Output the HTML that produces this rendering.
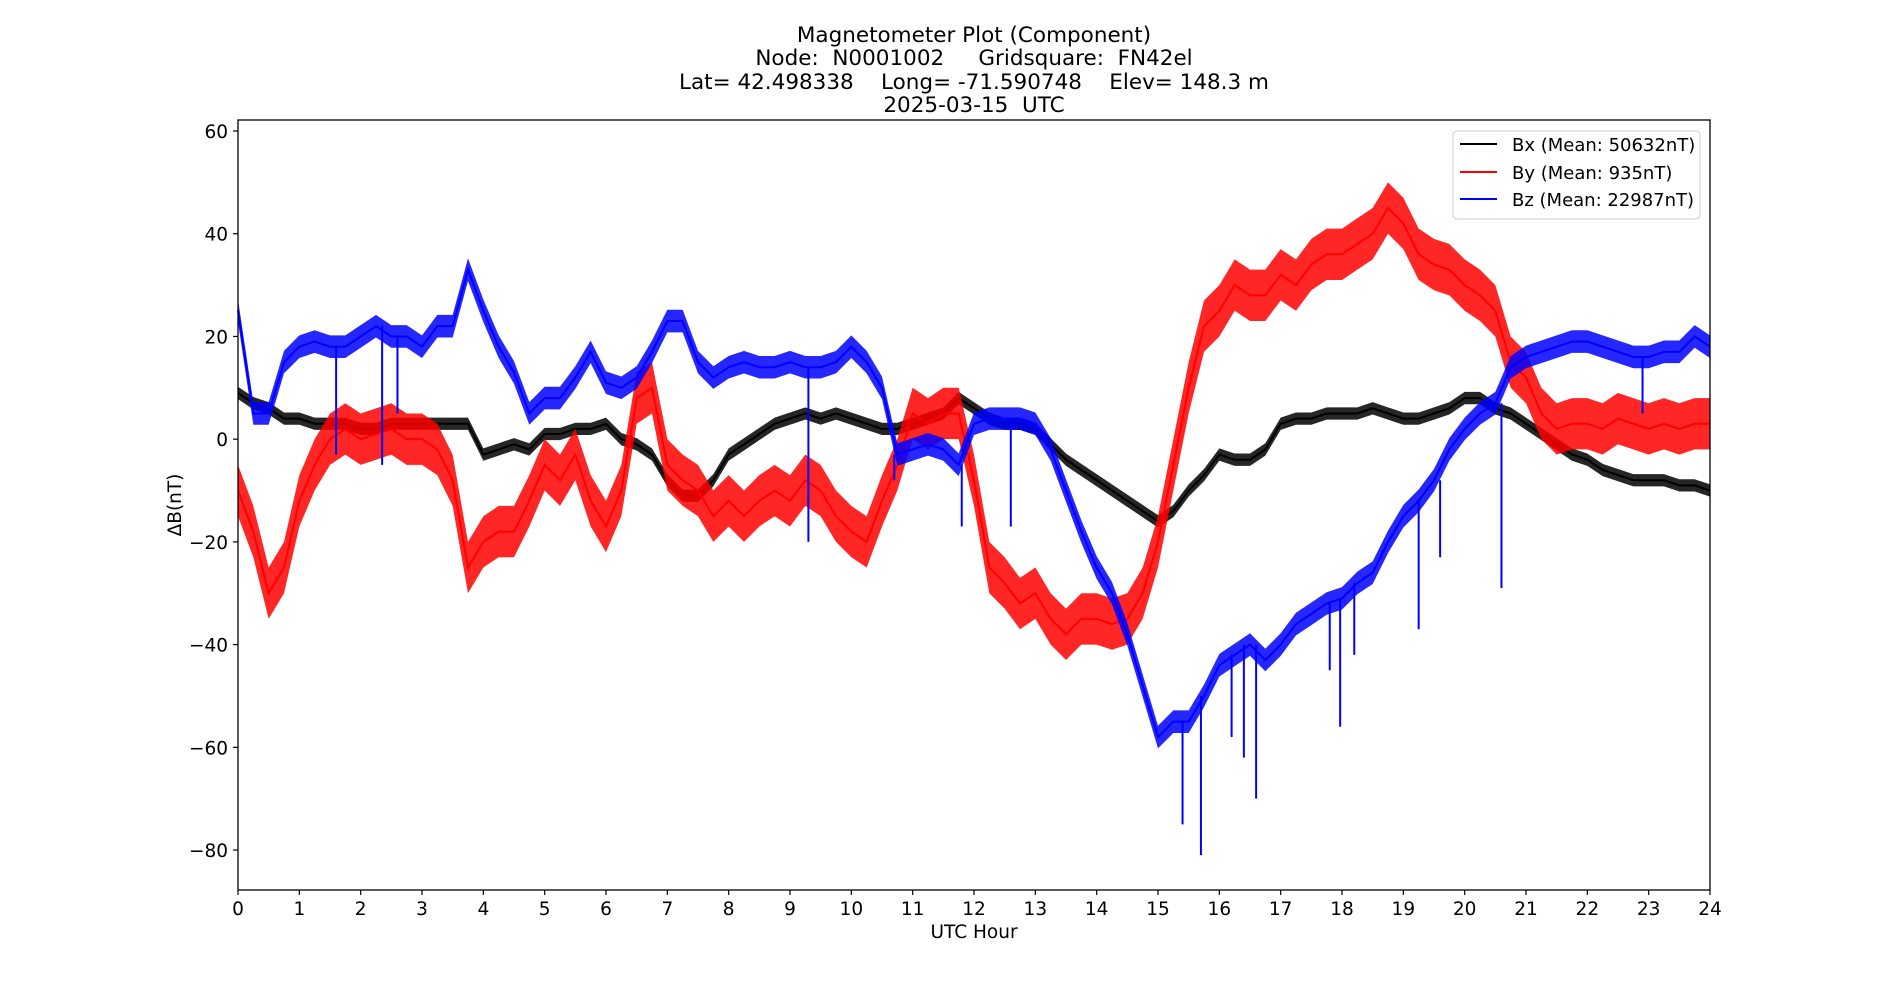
<!DOCTYPE html>
<html><head><meta charset="utf-8"><style>
html,body{margin:0;padding:0;background:#fff;}
svg{display:block;font-family:"DejaVu Sans","Liberation Sans",sans-serif;}
text{white-space:pre;}
</style></head><body>
<svg id="chart" width="1900" height="1000" viewBox="0 0 1900 1000">
<g font-size="21.5" text-anchor="middle" fill="#000" xml:space="preserve">
<text x="974" y="42">Magnetometer Plot (Component)</text>
<text x="974" y="65">Node:  N0001002     Gridsquare:  FN42el</text>
<text x="974" y="89">Lat= 42.498338    Long= -71.590748    Elev= 148.3 m</text>
<text x="974" y="112">2025-03-15  UTC</text>
</g>
<g id="plot"></g>
<rect x="238" y="120" width="1472" height="770" fill="none" stroke="#000" stroke-width="1.3"/>
<g id="xticks"></g>
<g id="yticks"></g>
<text x="974" y="938" font-size="18.5" text-anchor="middle">UTC Hour</text>
<text x="0" y="0" font-size="18.5" text-anchor="middle" transform="translate(181,505) rotate(-90)">ΔB(nT)</text>
<g>
<rect x="1453" y="131" width="247" height="88" rx="4" fill="#fff" fill-opacity="0.8" stroke="#ccc" stroke-width="1"/>
<g><line x1="1460" y1="144" x2="1497" y2="144" stroke="#000" stroke-width="2"/><text x="1512" y="151" font-size="18">Bx (Mean: 50632nT)</text></g>
<g><line x1="1460" y1="172" x2="1497" y2="172" stroke="#f00" stroke-width="2"/><text x="1512" y="179" font-size="18">By (Mean: 935nT)</text></g>
<g><line x1="1460" y1="199" x2="1497" y2="199" stroke="#00f" stroke-width="2"/><text x="1512" y="206" font-size="18">Bz (Mean: 22987nT)</text></g>
</g>
</svg>
<script>
const hours = [];
for (let i = 0; i <= 96; i++) hours.push(i * 0.25);
const bxValues = [9,7,6,4,4,3,3,3,2,2,3,3,3,3,3,3,-3,-2,-1,-2,1,1,2,2,3,0,-1,-3,-8,-11,-11,-8,-3,-1,1,3,4,5,4,5,4,3,2,2,3,4,5,8,6,4,3,3,2,-1,-4,-6,-8,-10,-12,-14,-16,-14,-10,-7,-3,-4,-4,-2,3,4,4,5,5,5,6,5,4,4,5,6,8,8,6,5,3,1,-1,-3,-4,-6,-7,-8,-8,-8,-9,-9,-10];
const byValues = [-10,-18,-30,-25,-12,-5,0,2,0,1,2,0,0,-2,-8,-25,-20,-18,-18,-12,-5,-8,-3,-12,-17,-10,8,10,-5,-8,-10,-15,-12,-15,-12,-10,-12,-8,-10,-15,-18,-20,-12,-5,5,3,5,5,-8,-25,-28,-32,-30,-35,-38,-35,-35,-36,-35,-30,-20,-5,10,22,25,30,28,28,32,30,34,36,36,38,40,45,42,36,34,33,30,28,25,15,12,5,2,3,3,2,4,3,2,3,2,3,3];
const bzValues = [25,5,5,15,18,19,18,18,20,22,20,20,18,22,22,33,25,18,13,5,8,8,12,17,11,10,12,17,23,23,15,12,14,15,14,14,15,14,14,15,18,15,10,-3,-2,-1,-2,-5,3,4,4,4,3,-2,-10,-18,-25,-30,-38,-48,-58,-55,-55,-50,-44,-42,-40,-43,-40,-36,-34,-32,-31,-28,-26,-20,-15,-12,-8,-2,2,5,7,14,16,17,18,19,19,18,17,16,16,17,17,20,18];
const bxNoise = 1.2, byNoise = 5, bzNoise = 2.2;
const bzSpikeHours = [1.6,2.35,2.6,9.3,10.7,11.8,12.6,15.4,15.7,16.2,16.4,16.6,17.8,17.97,18.2,19.25,19.6,20.6,22.9];
const bzSpikeValues = [-3,-5,5,-20,-8,-17,-17,-75,-81,-58,-62,-70,-45,-56,-42,-37,-23,-29,5];
const xTicks = [0,1,2,3,4,5,6,7,8,9,10,11,12,13,14,15,16,17,18,19,20,21,22,23,24];
const yTicks = [60,40,20,0,-20,-40,-60,-80];

const NS = 'http://www.w3.org/2000/svg';
const X0 = 238, X1 = 1710, Y60 = 131, PERU = 5.136;
function xs(h){ return X0 + h * (X1 - X0) / 24; }
function ys(v){ return Y60 + (60 - v) * PERU; }
const plot = document.getElementById('plot');

function series(vals, noise, color, name){
  const g = document.createElementNS(NS,'g');
  
  
  let up = [], dn = [];
  vals.forEach((v,i)=>{ up.push(xs(hours[i])+','+ys(v+noise)); dn.unshift(xs(hours[i])+','+ys(v-noise)); });
  const band = document.createElementNS(NS,'polygon');
  band.setAttribute('points', up.concat(dn).join(' '));
  band.setAttribute('fill', color);
  band.setAttribute('fill-opacity', '0.85');
  
  
  g.appendChild(band);
  const pl = document.createElementNS(NS,'polyline');
  pl.setAttribute('points', vals.map((v,i)=>xs(hours[i])+','+ys(v)).join(' '));
  pl.setAttribute('fill','none'); pl.setAttribute('stroke',color); pl.setAttribute('stroke-width','2');
  
  
  g.appendChild(pl);
  plot.appendChild(g);
  return g;
}
series(bxValues, bxNoise, '#000', 'series-bx');
series(byValues, byNoise, '#f00', 'series-by');
const gz = series(bzValues, bzNoise, '#00f', 'series-bz');
bzSpikeHours.forEach((h,i)=>{
  const k = Math.min(96, Math.round(h*4));
  const l = document.createElementNS(NS,'line');
  l.setAttribute('x1', xs(h)); l.setAttribute('x2', xs(h));
  l.setAttribute('y1', ys(bzValues[k])); l.setAttribute('y2', ys(bzSpikeValues[i]));
  l.setAttribute('stroke','#00f'); l.setAttribute('stroke-width','2');
  
  
  gz.appendChild(l);
});

const gx = document.getElementById('xticks');
xTicks.forEach(t=>{
  const l = document.createElementNS(NS,'line');
  l.setAttribute('x1', xs(t)); l.setAttribute('x2', xs(t)); l.setAttribute('y1', 890); l.setAttribute('y2', 895);
  l.setAttribute('stroke','#000'); l.setAttribute('stroke-width','1.2');
  
  
  gx.appendChild(l);
  const tx = document.createElementNS(NS,'text');
  tx.setAttribute('x', xs(t)); tx.setAttribute('y', 915); tx.setAttribute('font-size','18.5'); tx.setAttribute('text-anchor','middle');
  
  
  tx.textContent = t; gx.appendChild(tx);
});
const gy = document.getElementById('yticks');
yTicks.forEach(t=>{
  const l = document.createElementNS(NS,'line');
  l.setAttribute('x1', 233); l.setAttribute('x2', 238); l.setAttribute('y1', ys(t)); l.setAttribute('y2', ys(t));
  l.setAttribute('stroke','#000'); l.setAttribute('stroke-width','1.2');
  
  
  gy.appendChild(l);
  const tx = document.createElementNS(NS,'text');
  tx.setAttribute('x', 228); tx.setAttribute('y', ys(t)+7); tx.setAttribute('font-size','18.5'); tx.setAttribute('text-anchor','end');
  
  
  tx.textContent = t < 0 ? '\u2212' + Math.abs(t) : t; gy.appendChild(tx);
});
</script>
</body></html>
